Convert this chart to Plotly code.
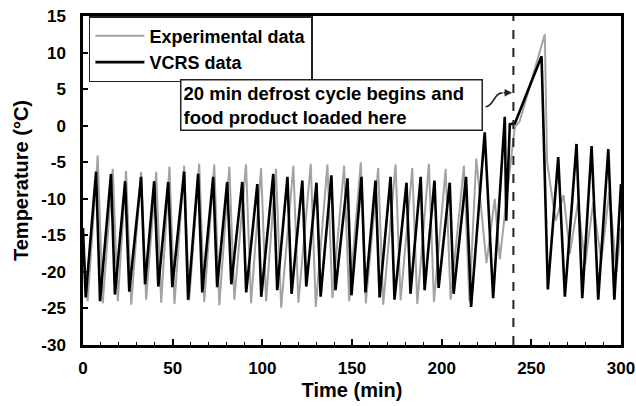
import plotly.graph_objects as go

# VCRS (model) turning points: time (min), temperature (°C)
vcrs_time = [0, 1.5,
             7.3, 9.5, 15.6, 17.8, 23.5, 25.8, 32.4, 34.6, 39.7, 42.0, 47.5, 49.8,
             56.4, 58.6, 64.2, 66.5, 72.6, 74.8, 80.4, 82.7, 88.8, 91.0, 97.2, 99.4,
             106.1, 108.3, 114.0, 116.3, 122.3, 124.5, 130.2, 132.5, 138.5, 140.8,
             147.5, 149.7, 155.3, 157.5, 163.1, 165.4, 171.5, 173.7, 180.4, 182.6,
             188.3, 190.5, 196.0, 198.3, 204.5, 206.7,
             213.6, 216.4, 224.0, 228.7, 235.2, 236.0, 238.0, 240.8, 255.7, 259.2,
             265.0, 268.7, 275.2, 278.4, 283.6, 287.3, 292.9, 296.3, 300.0]
vcrs_temp = [-14.0, -23.5,
             -6.3, -24.0, -6.6, -23.1, -7.6, -22.7, -7.0, -21.7, -7.6, -22.0, -7.7, -22.1,
             -6.3, -23.8, -6.6, -22.8, -7.0, -22.1, -7.7, -21.7, -7.7, -22.8, -8.0, -23.4,
             -6.6, -22.5, -7.0, -23.0, -7.5, -22.0, -7.8, -23.4, -6.8, -22.5,
             -7.2, -23.2, -7.0, -22.8, -7.5, -23.5, -7.0, -23.8, -7.8, -23.0,
             -7.0, -22.5, -7.5, -22.2, -7.8, -23.0,
             -7.0, -24.8, -0.9, -23.6, 1.2, -13.0, 0.2, 0.3, 9.5, -22.4,
             -4.3, -23.4, -2.5, -23.6, -2.8, -23.8, -3.2, -23.8, -8.0]

# Experimental turning points
exp_time = [0, 2.6,
            8.2, 11.0, 16.6, 19.4, 24.0, 26.9, 32.4, 35.2, 40.8, 43.6, 48.2, 51.0,
            56.4, 59.2, 64.8, 67.6, 73.2, 76.0, 81.6, 84.4, 90.9, 93.7, 99.3, 102.1,
            107.6, 110.5, 117.3, 120.1, 127.0, 129.8, 136.3, 139.1, 145.6, 148.4,
            154.9, 157.7, 164.6, 167.4, 174.3, 177.1, 183.6, 186.4, 192.9, 195.7,
            202.2, 205.0, 212.4, 215.5,
            219.3, 225.0, 229.6, 232.4, 239.8, 240.8, 243.5, 257.5, 258.8, 261.0,
            263.5, 268.0, 271.5, 276.0, 280.0, 284.5, 289.0, 293.5, 297.5, 300.0]
exp_temp = [-16.0, -24.0,
            -4.1, -24.3, -5.9, -24.0, -6.2, -24.5, -6.3, -23.8, -6.3, -24.2, -5.6, -24.4,
            -5.5, -23.9, -5.2, -24.1, -5.3, -24.6, -5.6, -23.8, -5.3, -24.3, -5.8, -24.0,
            -5.9, -24.9, -5.5, -24.2, -5.2, -24.8, -5.3, -23.6, -5.5, -24.0,
            -5.0, -24.3, -5.8, -24.5, -5.3, -23.9, -5.8, -24.4, -5.2, -24.1,
            -5.9, -23.8, -5.5, -24.0,
            -4.5, -18.8, -10.0, -18.3, -2.2, -0.2, 0.6, 12.5, -5.0, -9.0,
            -13.0, -9.5, -17.5, -10.5, -19.0, -10.5, -18.5, -9.0, -20.0, -14.0]

x_ticks = [0, 50, 100, 150, 200, 250, 300]
y_ticks = [-30, -25, -20, -15, -10, -5, 0, 5, 10, 15]
y_tick_labels = ["-30", "-25", "-20", "-15", "-10", "-5", "0", "5", "10", "15"]
defrost_time = 240

FONT = "Liberation Sans, Arial, sans-serif"

fig = go.Figure()
fig.add_trace(go.Scatter(x=exp_time, y=exp_temp, mode="lines", name="Experimental data",
                         line=dict(color="#a3a3a3", width=2)))
fig.add_trace(go.Scatter(x=vcrs_time, y=vcrs_temp, mode="lines", name="VCRS data",
                         line=dict(color="#000000", width=2.6)))

fig.add_shape(type="line", x0=defrost_time, x1=defrost_time, y0=-30, y1=15,
              xref="x", yref="y", line=dict(color="#222", width=2, dash="dash"))

# curved arrow from text box to defrost line
fig.add_shape(type="path", xref="x", yref="y",
              path="M 224.5,2.6 C 229,2.6 229,4.5 234,4.5",
              line=dict(color="#222", width=1.5))
fig.add_annotation(x=239.3, y=4.5, ax=-10, ay=0, xref="x", yref="y", text="",
                   showarrow=True, arrowhead=2, arrowsize=1, arrowwidth=1.5,
                   arrowcolor="#222")

fig.add_annotation(x=0.18, y=0.81, xref="paper", yref="paper", xanchor="left", yanchor="top",
                   text="20 min defrost cycle begins and<br>food product loaded here",
                   showarrow=False, align="left", width=296,
                   font=dict(family=FONT, size=18.5, color="black", weight="bold"),
                   bordercolor="#222", borderwidth=1.5, borderpad=2, bgcolor="white")

fig.update_layout(
    width=636, height=406,
    margin=dict(l=83, r=15, t=16, b=61),
    paper_bgcolor="white", plot_bgcolor="white",
    font=dict(family=FONT, size=17, color="black", weight="bold"),
    showlegend=True,
    legend=dict(x=0.011, y=1.0, xanchor="left", yanchor="top",
                bordercolor="#222", borderwidth=1.5, bgcolor="white",
                font=dict(family=FONT, size=18, color="black", weight="bold"),
                tracegroupgap=0, itemwidth=49),
    xaxis=dict(range=[0, 300], tickvals=x_ticks, ticks="inside", ticklen=6, tickwidth=1.5,
               tickcolor="black", showline=True, linewidth=2.5, linecolor="black",
               mirror=True, showgrid=False, zeroline=False, ticklabelstandoff=6,
               automargin=False,
               minor=dict(dtick=10, ticks="inside", ticklen=3, tickwidth=1.2, tickcolor="black"),
               title=dict(text="Time (min)", font=dict(size=20, weight="bold"), standoff=6)),
    yaxis=dict(range=[-30, 15], tickvals=y_ticks, ticktext=y_tick_labels,
               ticks="inside", ticklen=5, tickwidth=1.5,
               tickcolor="black", showline=True, linewidth=2.5, linecolor="black",
               mirror=True, showgrid=False, zeroline=False, ticklabelstandoff=11,
               automargin=False,
               title=dict(text="Temperature (°C)", font=dict(size=20, weight="bold"), standoff=8)),
)

fig.write_html("out.html")
